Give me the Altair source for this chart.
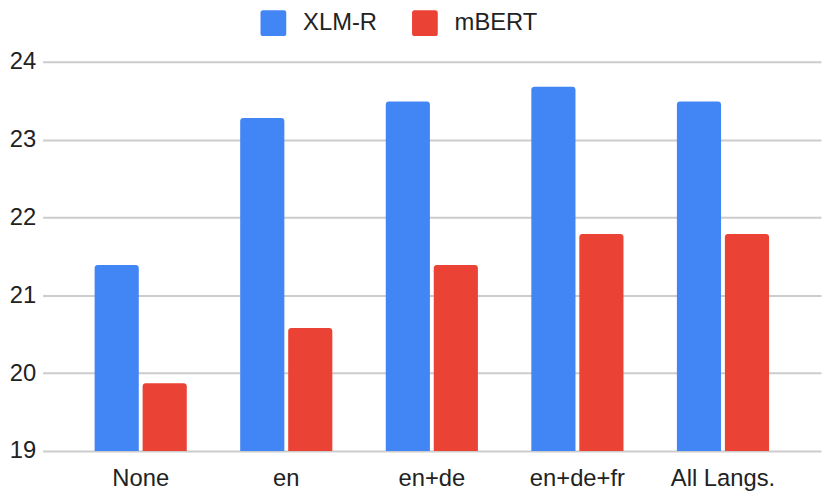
import altair as alt
import pandas as pd

categories = ["None", "en", "en+de", "en+de+fr", "All Langs."]
series = ["XLM-R", "mBERT"]
xlmr = [21.39, 23.28, 23.49, 23.68, 23.49]
mbert = [19.87, 20.58, 21.39, 21.79, 21.79]
y_ticks = [19, 20, 21, 22, 23, 24]
colors = ["#4285F4", "#EA4335"]

rows = []
for c, a, b in zip(categories, xlmr, mbert):
    rows.append({"cat": c, "model": series[0], "value": a})
    rows.append({"cat": c, "model": series[1], "value": b})
df = pd.DataFrame(rows)

FONT = "Liberation Sans"
rounded_square = ("M -0.8 -1 L 0.8 -1 Q 1 -1 1 -0.8 L 1 0.8 Q 1 1 0.8 1 "
                  "L -0.8 1 Q -1 1 -1 0.8 L -1 -0.8 Q -1 -1 -0.8 -1 Z")

chart = alt.Chart(df).mark_bar(
    cornerRadiusTopLeft=3, cornerRadiusTopRight=3
).encode(
    x=alt.X("cat:N", sort=categories, title=None,
            scale=alt.Scale(paddingInner=0.367, paddingOuter=0.357),
            axis=alt.Axis(labelAngle=0, labelFontSize=24, labelFont=FONT,
                          labelColor="#222222", labelPadding=16,
                          domain=False, ticks=False, grid=False)),
    xOffset=alt.XOffset("model:N", sort=series,
                        scale=alt.Scale(paddingInner=0.08, paddingOuter=0)),
    y=alt.Y("value:Q", title=None,
            scale=alt.Scale(domain=[19, 24], zero=False, nice=False),
            axis=alt.Axis(values=y_ticks, labelFontSize=24, labelFont=FONT,
                          labelColor="#222222", labelPadding=7,
                          domain=False, ticks=False, gridColor="#cccccc",
                          gridWidth=2)),
    y2=alt.datum(19),
    color=alt.Color("model:N", sort=series, title=None,
                    scale=alt.Scale(domain=series, range=colors),
                    legend=alt.Legend(orient="none", legendX=220, legendY=-52,
                                      direction="horizontal",
                                      symbolType=rounded_square, symbolSize=676,
                                      symbolStrokeWidth=0, symbolOpacity=1,
                                      labelFontSize=24, labelFont=FONT,
                                      labelColor="#222222", labelOffset=17,
                                      columnPadding=35, padding=0)),
).properties(
    width=786, height=393,
    autosize=alt.AutoSizeParams(type="none"),
    padding={"left": 35, "top": 52, "right": 1, "bottom": 43},
).configure_view(stroke=None)

chart.save("out.html", embed_options={"renderer": "svg", "actions": False})
